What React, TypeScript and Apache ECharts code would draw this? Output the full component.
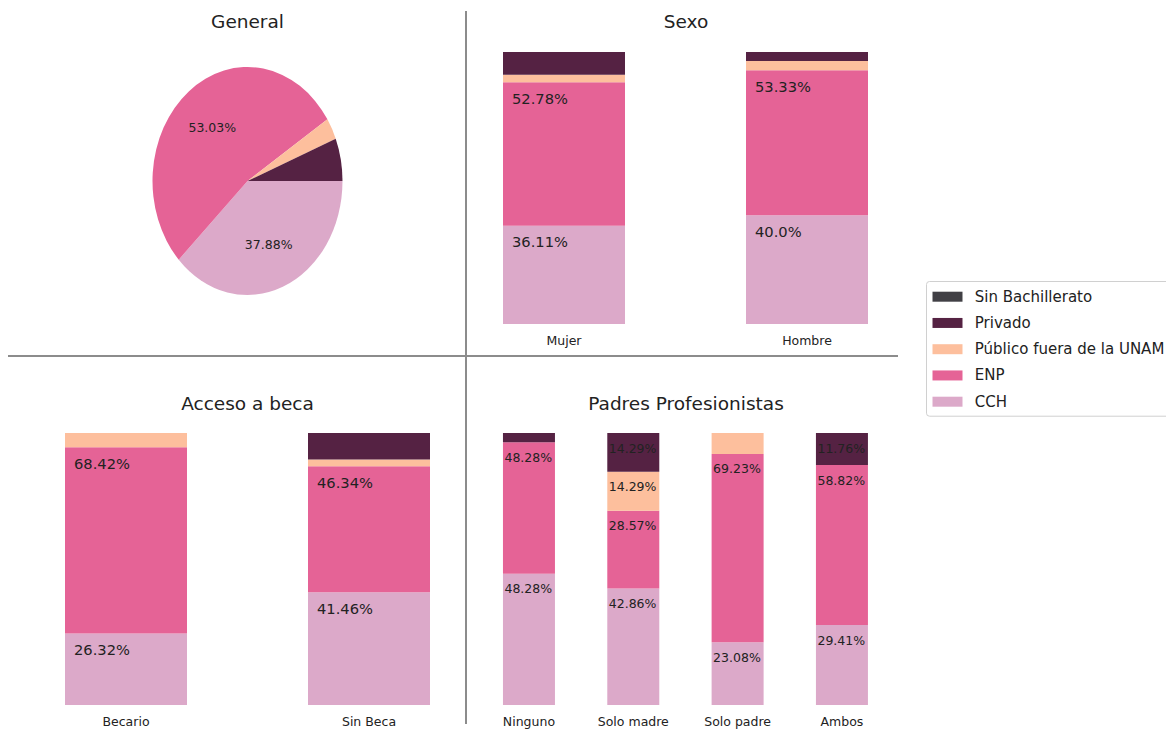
import React, { useEffect, useRef } from "react";
import * as echarts from "echarts";

const FONT = "DejaVu Sans";
const TEXT_COLOR = "#222222";

// Stack order bottom -> top
const seriesNames = ["CCH", "ENP", "Público fuera de la UNAM", "Privado", "Sin Bachillerato"];
const legendOrder = ["Sin Bachillerato", "Privado", "Público fuera de la UNAM", "ENP", "CCH"];
const seriesColors = ["#dca9c9", "#e56396", "#fdbf9d", "#552243", "#414045"];

// General (pie), same order as seriesNames
const generalValues = [37.88, 53.03, 3.03, 6.06, 0];

// Sexo
const sexoCategories = ["Mujer", "Hombre"];
const sexoCCH = [36.11, 40.0];
const sexoENP = [52.78, 53.33];
const sexoPublico = [2.78, 3.33];
const sexoPrivado = [8.33, 3.33];
const sexoSinBach = [0, 0];

// Acceso a beca
const becaCategories = ["Becario", "Sin Beca"];
const becaCCH = [26.32, 41.46];
const becaENP = [68.42, 46.34];
const becaPublico = [5.26, 2.44];
const becaPrivado = [0, 9.76];
const becaSinBach = [0, 0];

// Padres Profesionistas
const padresCategories = ["Ninguno", "Solo madre", "Solo padre", "Ambos"];
const padresCCH = [48.28, 42.86, 23.08, 29.41];
const padresENP = [48.28, 28.57, 69.23, 58.82];
const padresPublico = [0, 14.29, 7.69, 0];
const padresPrivado = [3.45, 14.29, 0, 11.76];
const padresSinBach = [0, 0, 0, 0];

const titles = [
  { text: "General", x: 247.5, y: 21.5 },
  { text: "Sexo", x: 686, y: 21.5 },
  { text: "Acceso a beca", x: 247.5, y: 403 },
  { text: "Padres Profesionistas", x: 686, y: 403 },
];

function fmt(v: number): string {
  return Number.isInteger(v) ? v.toFixed(1) : String(v);
}

export default function App() {
  const ref = useRef<HTMLDivElement>(null);

  useEffect(() => {
    document.body.style.margin = "0";
    if (!ref.current) return;
    const chart = echarts.init(ref.current, undefined, { renderer: "svg" });

    const barSeries = (
      stack: string,
      gridIdx: number,
      data: number[][],
      barWidth: number,
      fontSize: number,
      offset: number[]
    ) =>
      data.map((vals, i) => ({
        name: seriesNames[i],
        type: "bar",
        stack,
        xAxisIndex: gridIdx,
        yAxisIndex: gridIdx,
        barWidth,
        data: vals,
        itemStyle: { color: seriesColors[i] },
        label: {
          show: true,
          position: "insideTopLeft",
          distance: 0,
          offset,
          fontSize,
          fontFamily: FONT,
          color: TEXT_COLOR,
          formatter: (p: any) => (p.value > 10 ? fmt(p.value) + "%" : ""),
        },
        emphasis: { disabled: true },
      }));

    const total = generalValues.reduce((a, b) => a + b, 0);
    const pieCx = 247.5;
    const pieCy = 181;
    const pieRx = 95;
    const pieRy = 114;

    const xAxisCommon = (cats: string[], gridIndex: number) => ({
      type: "category",
      gridIndex,
      data: cats,
      axisLine: { show: false },
      axisTick: { show: false },
      axisLabel: { fontSize: 12.5, fontFamily: FONT, color: TEXT_COLOR, margin: 10 },
      splitLine: { show: false },
    });
    const yAxisCommon = (gridIndex: number) => ({
      type: "value",
      gridIndex,
      min: 0,
      max: 100,
      show: false,
    });

    const option: any = {
      animation: false,
      backgroundColor: "#ffffff",
      textStyle: { fontFamily: FONT },
      grid: [
        { left: 442.5, top: 52, width: 486, height: 272 },
        { left: 4.5, top: 433, width: 486, height: 272 },
        { left: 476.8, top: 433, width: 417.3, height: 272 },
      ],
      xAxis: [
        xAxisCommon(sexoCategories, 0),
        xAxisCommon(becaCategories, 1),
        xAxisCommon(padresCategories, 2),
      ],
      yAxis: [yAxisCommon(0), yAxisCommon(1), yAxisCommon(2)],
      legend: {
        data: legendOrder,
        orient: "vertical",
        left: 926.5,
        top: 281.5,
        padding: [6.7, 12, 6, 6],
        itemWidth: 30,
        itemHeight: 10,
        itemGap: 9.25,
        icon: "rect",
        backgroundColor: "#ffffff",
        borderColor: "#d0d0d0",
        borderWidth: 1,
        borderRadius: 3,
        selectedMode: false,
        textStyle: {
          fontSize: 15,
          fontFamily: FONT,
          color: TEXT_COLOR,
          lineHeight: 17,
          padding: [0, 0, 0, 7.3],
        },
      },
      graphic: [
        {
          type: "line",
          shape: { x1: 8, y1: 356, x2: 898, y2: 356 },
          style: { stroke: "#8c8c8c", lineWidth: 2 },
        },
        {
          type: "line",
          shape: { x1: 466, y1: 11, x2: 466, y2: 724 },
          style: { stroke: "#8c8c8c", lineWidth: 2 },
        },
        ...titles.map((t) => ({
          type: "text",
          x: t.x,
          y: t.y,
          style: {
            text: t.text,
            fontSize: 18.5,
            fontFamily: FONT,
            fill: TEXT_COLOR,
            align: "center",
            verticalAlign: "middle",
          },
        })),
      ],
      series: [
        {
          type: "custom",
          name: "General",
          coordinateSystem: "none",
          data: generalValues.map((v, i) => ({ name: seriesNames[i], value: v })),
          renderItem: (params: any, api: any) => {
            const idx = params.dataIndex;
            const v = api.value(0);
            if (!v) return { type: "group", children: [] };
            let before = 0;
            for (let k = 0; k < idx; k++) before += generalValues[k];
            // angles measured counter-clockwise from 3 o'clock, starting with the last slice
            let after = 0;
            for (let k = idx + 1; k < generalValues.length; k++) after += generalValues[k];
            const a0 = (after / total) * Math.PI * 2;
            const a1 = ((after + v) / total) * Math.PI * 2;
            const mid = (a0 + a1) / 2;
            const children: any[] = [
              {
                type: "sector",
                x: pieCx,
                y: pieCy,
                scaleX: pieRx / 100,
                scaleY: pieRy / 100,
                shape: { cx: 0, cy: 0, r0: 0, r: 100, startAngle: -a1, endAngle: -a0, clockwise: true },
                style: { fill: seriesColors[idx] },
              },
            ];
            if ((v / total) * 100 > 10) {
              children.push({
                type: "text",
                x: pieCx + 0.6 * pieRx * Math.cos(mid),
                y: pieCy - 0.6 * pieRy * Math.sin(mid),
                style: {
                  text: ((v / total) * 100).toFixed(2) + "%",
                  fontSize: 12.5,
                  fontFamily: FONT,
                  fill: TEXT_COLOR,
                  align: "center",
                  verticalAlign: "middle",
                },
              });
            }
            return { type: "group", children };
          },
        },
        ...barSeries("sexo", 0, [sexoCCH, sexoENP, sexoPublico, sexoPrivado, sexoSinBach], 122, 14.7, [9, 8.5]),
        ...barSeries("beca", 1, [becaCCH, becaENP, becaPublico, becaPrivado, becaSinBach], 122, 14.7, [9, 8.5]),
        ...barSeries("padres", 2, [padresCCH, padresENP, padresPublico, padresPrivado, padresSinBach], 52, 12.5, [1.5, 8.5]),
      ],
    };

    chart.setOption(option);
    return () => chart.dispose();
  }, []);

  return <div ref={ref} style={{ width: 1166, height: 731 }} />;
}
